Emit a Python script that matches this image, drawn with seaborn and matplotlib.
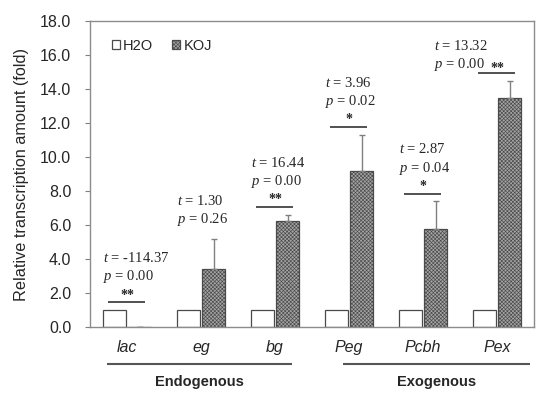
import matplotlib
matplotlib.use('Agg')
import matplotlib.pyplot as plt
import matplotlib.transforms as mtransforms
import numpy as np
import pandas as pd
import seaborn as sns

# values
genes = ['lac', 'eg', 'bg', 'Peg', 'Pcbh', 'Pex']
treatments = ['H2O', 'KOJ']
h2o_mean = [1.0, 1.0, 1.0, 1.0, 1.0, 1.0]
koj_mean = [0.02, 3.4, 6.25, 9.2, 5.75, 13.5]
koj_err = [0.0, 1.8, 0.35, 2.1, 1.65, 1.0]
t_values = ['-114.37', '1.30', '16.44', '3.96', '2.87', '13.32']
p_values = ['0.00', '0.26', '0.00', '0.02', '0.04', '0.00']
stars = ['**', '', '**', '*', '*', '**']
group_names = ['Endogenous', 'Exogenous']
group_members = [['lac', 'eg', 'bg'], ['Peg', 'Pcbh', 'Pex']]

sns.set_style('white')
plt.rcParams['font.family'] = ['Liberation Sans', 'DejaVu Sans']
plt.rcParams['mathtext.fontset'] = 'custom'
plt.rcParams['mathtext.rm'] = 'Liberation Serif'
plt.rcParams['mathtext.it'] = 'Liberation Serif:italic'
plt.rcParams['hatch.linewidth'] = 0.45
plt.rcParams['hatch.color'] = '#4f4f4f'

df = pd.DataFrame({
    'gene': genes * 2,
    'treatment': [treatments[0]] * len(genes) + [treatments[1]] * len(genes),
    'value': h2o_mean + koj_mean,
})

fig = plt.figure(figsize=(5.5, 3.97), dpi=100)
ax = fig.add_axes([0.1636, 0.1763, 0.8073, 0.7707])

sns.barplot(
    data=df, x='gene', y='value', hue='treatment',
    order=genes, hue_order=treatments,
    palette={'H2O': 'white', 'KOJ': '#a4a4a4'},
    saturation=1, edgecolor='#4a4a4a', linewidth=0.9,
    width=0.68, gap=0.06, errorbar=None, legend=False, ax=ax,
)
for bar in ax.containers[1]:
    bar.set_hatch('x' * 9)

# upper-only error bars on the KOJ bars
koj_x = [b.get_x() + b.get_width() / 2 for b in ax.containers[1]]
ax.errorbar(
    koj_x, koj_mean,
    yerr=[np.zeros(len(koj_err)), koj_err],
    fmt='none', ecolor='#808080', elinewidth=1.0, capsize=2.5, capthick=1.0,
)

ax.set_ylim(0, 18)
ax.set_xlim(-0.5, len(genes) - 0.5)
ax.set_yticks(np.arange(0, 18.1, 2))
ax.set_yticklabels([f'{v:.1f}' for v in np.arange(0, 18.1, 2)], fontsize=11.5)
ax.set_xticks(range(len(genes)))
ax.set_xticklabels(genes, fontsize=11.5, style='italic')
ax.tick_params(axis='y', direction='out', length=3.5, width=0.8,
               color='#808080', pad=10, left=True)
ax.tick_params(axis='x', length=0, pad=9)
ax.set_xlabel('')
ax.set_ylabel('Relative transcription amount (fold)', fontsize=11.7, labelpad=8)
for sp in ax.spines.values():
    sp.set_color('#8c8c8c')
    sp.set_linewidth(1.0)

leg = ax.legend(
    handles=[ax.containers[0][1], ax.containers[1][1]], labels=treatments,
    loc='upper left', bbox_to_anchor=(0.019, 0.985), ncol=2, frameon=False,
    fontsize=10.5, handlelength=0.55, handleheight=0.55, handletextpad=0.25,
    columnspacing=1.3,
)

# t / p annotations with significance bars
serif = 'Liberation Serif'
centers = ax.get_xticks()
for i, cx in enumerate(centers):
    top = max(h2o_mean[i], koj_mean[i] + koj_err[i])
    line_y = top + 0.45
    if stars[i]:
        p_y = line_y + 1.5
    else:
        p_y = top + 1.1
    compact = p_y + 1.05 > ax.get_ylim()[1] - 1
    if compact:
        p_y = top + 0.95
        tx = cx - 0.85
    else:
        tx = cx - 0.32
    t_y = p_y + 1.1
    ax.text(tx, t_y, r'$\it{t}$ = ' + t_values[i], fontsize=10.5,
            family=serif, ha='left', va='center')
    ax.text(tx, p_y, r'$\it{p}$ = ' + p_values[i], fontsize=10.5,
            family=serif, ha='left', va='center')
    if stars[i]:
        ax.plot([cx - 0.25, cx + 0.25], [line_y, line_y], color='#333333',
                lw=1.2, solid_capstyle='butt')
        sy = p_y - 0.25 if compact else line_y + 0.05
        ax.text(cx, sy, stars[i], fontsize=10, family=serif,
                ha='center', va='bottom' if not compact else 'center',
                fontweight='bold')

# group brackets under the axis
trans = mtransforms.blended_transform_factory(ax.transData, ax.transAxes)
group_spans = [(-0.27, 0.23), (-0.08, 0.45)]
for name, members, (lo, hi) in zip(group_names, group_members, group_spans):
    x0 = genes.index(members[0]) + lo
    x1 = genes.index(members[-1]) + hi
    ax.plot([x0, x1], [-0.121, -0.121], transform=trans, color='#555555',
            lw=1.5, clip_on=False, solid_capstyle='butt')
    ax.text((x0 + x1) / 2, -0.18, name, transform=trans, ha='center',
            va='center', fontsize=10.5, fontweight='bold')

fig.savefig('out.png', dpi=100)
